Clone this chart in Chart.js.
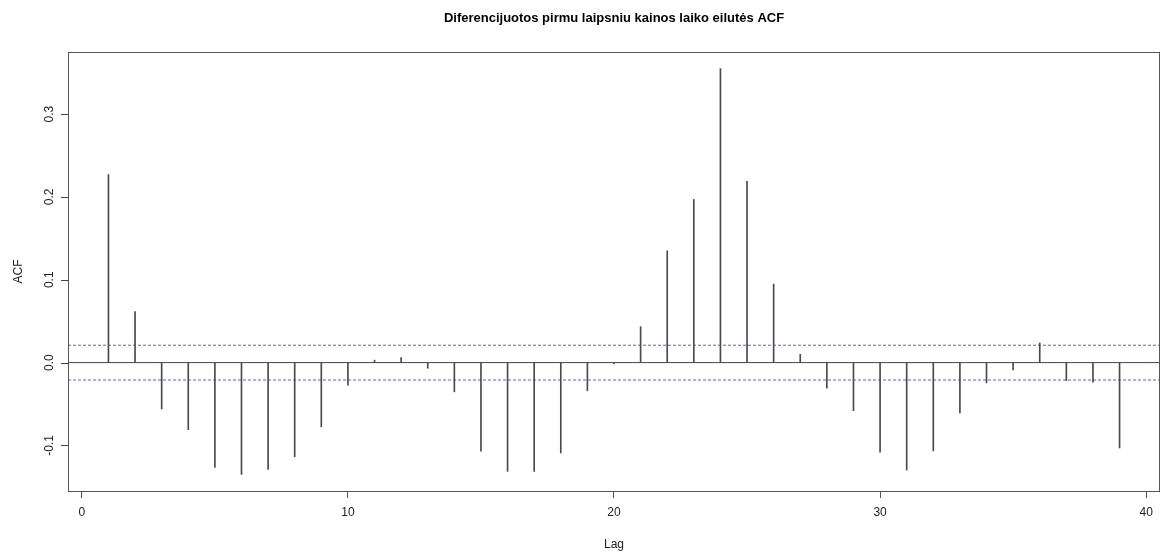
<!DOCTYPE html>
<html>
<head>
<meta charset="utf-8">
<script src="https://cdn.jsdelivr.net/npm/chart.js@4"></script>
<style>
  html, body { margin: 0; padding: 0; background: #fff; }
  #wrap { width: 1162px; height: 555px; }
</style>
</head>
<body>
<div id="wrap"><canvas id="chart" width="1162" height="555"></canvas></div>
<script>
const chartTitle = 'Diferencijuotos pirmu laipsniu kainos laiko eilutės ACF';
const lags = [1, 2, 3, 4, 5, 6, 7, 8, 9, 10, 11, 12, 13, 14, 15, 16, 17, 18, 19, 20,
  21, 22, 23, 24, 25, 26, 27, 28, 29, 30, 31, 32, 33, 34, 35, 36, 37, 38, 39];
const acfValues = [0.227, 0.0615, -0.056, -0.081, -0.1265, -0.135, -0.129, -0.1136, -0.0775, -0.0273,
  0.003, 0.006, -0.0068, -0.0353, -0.107, -0.1313, -0.1313, -0.109, -0.034, -0.0016,
  0.0434, 0.135, 0.197, 0.355, 0.219, 0.0948, 0.010, -0.031, -0.058, -0.108,
  -0.1297, -0.1065, -0.0607, -0.0245, -0.0088, 0.0237, -0.0217, -0.0237, -0.103];
const confLimit = 0.021;
const xTicks = [0, 10, 20, 30, 40];
const yTicks = [-0.1, 0.0, 0.1, 0.2, 0.3];
const xRange = [-0.52, 40.52];
const yRange = [-0.155, 0.375];

const font = "'Liberation Sans', Arial, sans-serif";

// box around plot region, y tick marks, centered main title
const framePlugin = {
  id: 'frame',
  afterDraw(chart) {
    const { ctx, chartArea: a } = chart;
    const ys = chart.scales.y;
    const left = Math.round(a.left);
    ctx.save();
    ctx.strokeStyle = '#555';
    ctx.lineWidth = 1;
    ctx.strokeRect(left + 0.5, Math.round(a.top) + 0.5,
      Math.round(a.right - a.left) - 1, Math.round(a.bottom - a.top));
    ctx.fillStyle = '#444';
    for (const v of yTicks) {
      const py = Math.round(ys.getPixelForValue(v));
      ctx.fillRect(left - 7, py, 8, 1);
    }
    ctx.fillStyle = '#000';
    ctx.font = 'bold 13px ' + font;
    ctx.textAlign = 'center';
    ctx.textBaseline = 'middle';
    ctx.fillText(chartTitle, (a.left + a.right) / 2, 18);
    ctx.restore();
  }
};

const hline = (v) => [{ x: xRange[0], y: v }, { x: xRange[1], y: v }];

new Chart(document.getElementById('chart'), {
  type: 'bar',
  data: {
    datasets: [
      {
        type: 'bar',
        data: lags.map((l, i) => ({ x: l, y: acfValues[i] })),
        backgroundColor: '#4a4a4a',
        barThickness: 1,
        borderWidth: 0
      },
      {
        type: 'line',
        data: hline(0),
        borderColor: '#444',
        borderWidth: 1,
        pointRadius: 0
      },
      {
        type: 'line',
        data: hline(confLimit),
        borderColor: '#5c5ce0',
        borderWidth: 1,
        borderDash: [3, 2],
        pointRadius: 0
      },
      {
        type: 'line',
        data: hline(-confLimit),
        borderColor: '#5c5ce0',
        borderWidth: 1,
        borderDash: [3, 2],
        pointRadius: 0
      }
    ]
  },
  options: {
    responsive: false,
    animation: false,
    layout: { padding: { top: 52, right: 2, left: 0, bottom: 0 } },
    plugins: { legend: { display: false }, tooltip: { enabled: false } },
    scales: {
      x: {
        type: 'linear',
        min: xRange[0],
        max: xRange[1],
        offset: false,
        afterBuildTicks: (s) => { s.ticks = xTicks.map(v => ({ value: v })); },
        afterFit: (s) => { s.height = 64; },
        grid: { offset: false, drawOnChartArea: false, drawTicks: true, tickLength: 7, color: '#555' },
        border: { display: false },
        ticks: { color: '#222', font: { family: font, size: 12 }, padding: 7, maxRotation: 0 },
        title: { display: true, text: 'Lag', color: '#222', font: { family: font, size: 12 }, padding: { top: 0, bottom: 3 } }
      },
      y: {
        type: 'linear',
        min: yRange[0],
        max: yRange[1],
        afterBuildTicks: (s) => { s.ticks = yTicks.map(v => ({ value: v })); },
        afterFit: (s) => { s.width = 68; },
        grid: { display: false },
        border: { display: false },
        ticks: {
          color: '#222',
          font: { family: font, size: 12 },
          padding: 0,
          minRotation: 90,
          maxRotation: 90,
          crossAlign: 'center',
          callback: (v) => Number(v).toFixed(1)
        },
        title: { display: true, text: 'ACF', color: '#222', font: { family: font, size: 12 }, padding: { top: 11, bottom: 0 } }
      }
    }
  },
  plugins: [framePlugin]
});
</script>
</body>
</html>
